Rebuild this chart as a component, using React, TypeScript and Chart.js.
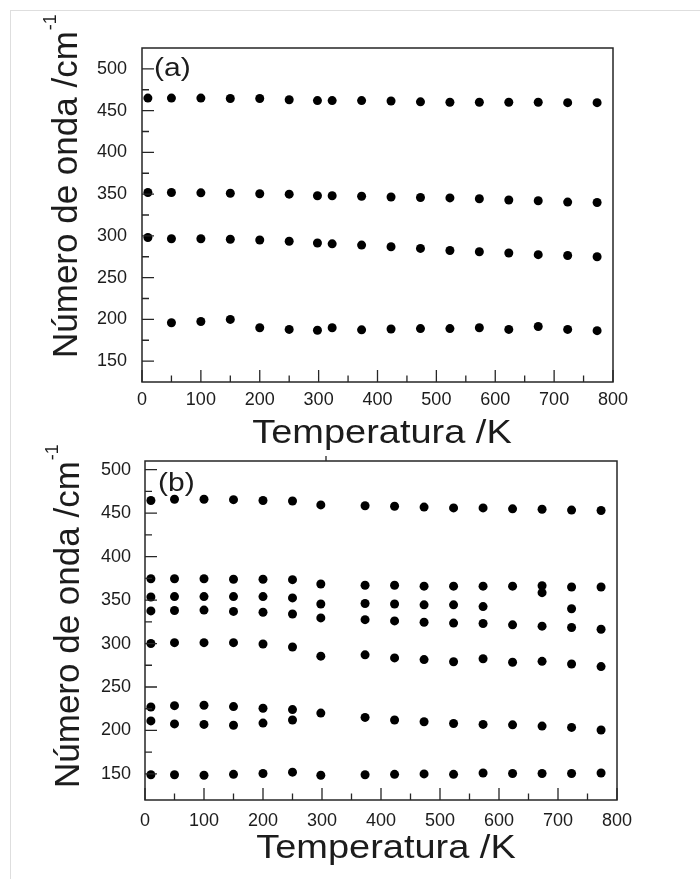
import React, { useEffect, useRef } from "react";
import { Chart, registerables } from "chart.js";

Chart.register(...registerables);

// ---------- data ----------
// Panel (a): temperatures (K) and four Raman bands (cm^-1)
const TEMPS_A = [10, 50, 100, 150, 200, 250, 298, 323, 373, 423, 473, 523, 573, 623, 673, 723, 773];
const BAND_A1 = [465, 465, 465, 464.5, 464.5, 463, 462, 462, 462, 461.5, 460.5, 460, 460, 460, 460, 459.5, 459.5];
const BAND_A2 = [352, 352, 351.5, 351, 350.5, 350, 348, 348, 347.5, 346.5, 346, 345.5, 344.5, 343, 342, 340.5, 340];
const BAND_A3 = [298, 296.5, 296.5, 296, 295, 293.5, 291.5, 290.5, 289, 287, 285, 282.5, 281, 279.5, 277.5, 276.5, 275];
const BAND_A4 = [null, 196, 197.5, 200, 190, 188, 187, 190, 187.5, 188.5, 189, 189, 190, 188, 191.5, 188, 186.5];

// Panel (b): temperatures (K) and eight bands (cm^-1)
const TEMPS_B = [10, 50, 100, 150, 200, 250, 298, 373, 423, 473, 523, 573, 623, 673, 723, 773];
const BAND_B1 = [464.5, 466, 466, 465.5, 464.5, 464, 459.5, 458.5, 458, 457, 456, 456, 455, 454.5, 453.5, 453];
const BAND_B2 = [374.5, 374.5, 374.5, 374, 374, 373.5, 368.5, 367, 367, 366, 366, 366, 366, 366.5, 365, 365];
const BAND_B3 = [353.5, 354, 354, 354, 354, 352.5, 345.5, 346, 345.5, 344.5, 344.5, 342.5, null, 358.5, 340, null];
const BAND_B4 = [337.5, 338, 338.5, 337, 336, 334, 329.5, 327.5, 326, 324.5, 323.5, 323, 321.5, 320, 318.5, 316.5];
const BAND_B5 = [300, 301, 301, 301, 299.5, 296, 285.5, 287, 283.5, 281.5, 279, 282.5, 278.5, 279.5, 276.5, 273.5];
const BAND_B6 = [227, 228.5, 229, 227.5, 225.5, 224, 220, null, null, null, null, null, null, null, null, null];
const BAND_B7 = [211, 207.5, 207, 206, 208.5, 212, null, 215, 212, 210, 208, 207, 206.5, 205, 203.5, 200.5];
const BAND_B8 = [149, 149, 148.5, 149.5, 150.5, 152, 148.5, 149, 149.5, 150, 149.5, 151, 150.5, 150.5, 150.5, 151];

// ---------- axis ticks ----------
const X_MAJOR = [0, 100, 200, 300, 400, 500, 600, 700, 800];
const X_MINOR = [50, 150, 250, 350, 450, 550, 650, 750];
const Y_MAJOR = [150, 200, 250, 300, 350, 400, 450, 500];
const Y_MINOR = [175, 225, 275, 325, 375, 425, 475];
// short outward mark on the top edge of panel (b)
const TOP_MARKS_B = [300];

const X_TITLE = "Temperatura /K";
const Y_TITLE = "Número de onda /cm";
const Y_TITLE_SUP = "-1";

const FONT = "'Liberation Sans', Arial, Helvetica, sans-serif";
const INK = "#1c1c1c";

type Panel = {
  letter: string;
  top: number;
  height: number;
  area: { left: number; top: number; right: number; bottom: number };
  yMin: number;
  yMax: number;
  temps: number[];
  bands: (number | null)[][];
  topMarks: number[];
  yPad: number;
  xPad: number;
  yTitleX: number;
  yTitleStart: number;
  xTitleX: number;
  xTitleY: number;
  letterX: number;
  letterY: number;
};

const PANELS: Panel[] = [
  {
    letter: "(a)",
    top: 0,
    height: 450,
    area: { left: 142, top: 48, right: 613, bottom: 382 },
    yMin: 125,
    yMax: 525,
    temps: TEMPS_A,
    bands: [BAND_A1, BAND_A2, BAND_A3, BAND_A4],
    topMarks: [],
    yPad: 15,
    xPad: 7,
    yTitleX: 77,
    yTitleStart: 358,
    xTitleX: 382,
    xTitleY: 443,
    letterX: 154,
    letterY: 69,
  },
  {
    letter: "(b)",
    top: 430,
    height: 449,
    area: { left: 145, top: 31, right: 617, bottom: 370 },
    yMin: 120,
    yMax: 510,
    temps: TEMPS_B,
    bands: [BAND_B1, BAND_B2, BAND_B3, BAND_B4, BAND_B5, BAND_B6, BAND_B7, BAND_B8],
    topMarks: TOP_MARKS_B,
    yPad: 14,
    xPad: 10,
    yTitleX: 79,
    yTitleStart: 358,
    xTitleX: 386,
    xTitleY: 428,
    letterX: 158,
    letterY: 54,
  },
];

const WIDTH = 700;

// Frame, inward tick marks, axis titles and the panel letter
function makeDecor(p: Panel) {
  return {
    id: "panelDecor",
    afterDraw(chart: any) {
      const { ctx, chartArea } = chart;
      const xs = chart.scales.x;
      const ys = chart.scales.y;
      const { left, top, right, bottom } = chartArea;
      ctx.save();
      ctx.strokeStyle = "#262626";
      ctx.lineWidth = 1.5;
      ctx.strokeRect(left, top, right - left, bottom - top);

      ctx.lineWidth = 1.3;
      ctx.beginPath();
      const xTick = (v: number, len: number) => {
        const px = xs.getPixelForValue(v);
        ctx.moveTo(px, bottom);
        ctx.lineTo(px, bottom - len);
      };
      X_MAJOR.forEach((v) => xTick(v, 12));
      X_MINOR.forEach((v) => xTick(v, 6.5));
      const yTick = (v: number, len: number) => {
        const py = ys.getPixelForValue(v);
        ctx.moveTo(left, py);
        ctx.lineTo(left + len, py);
      };
      Y_MAJOR.forEach((v) => yTick(v, 12));
      Y_MINOR.forEach((v) => yTick(v, 7));
      p.topMarks.forEach((v) => {
        const px = xs.getPixelForValue(v) + 4;
        ctx.moveTo(px, top);
        ctx.lineTo(px, top - 5);
      });
      ctx.stroke();

      ctx.fillStyle = INK;

      // x-axis title
      ctx.save();
      ctx.translate(p.xTitleX, p.xTitleY);
      ctx.scale(1.15, 1);
      ctx.font = `33px ${FONT}`;
      ctx.textAlign = "center";
      ctx.textBaseline = "alphabetic";
      ctx.fillText(X_TITLE, 0, 0);
      ctx.restore();

      // y-axis title with superscript
      ctx.save();
      ctx.translate(p.yTitleX, p.yTitleStart);
      ctx.rotate(-Math.PI / 2);
      ctx.font = `35px ${FONT}`;
      ctx.textAlign = "left";
      ctx.textBaseline = "alphabetic";
      ctx.fillText(Y_TITLE, 0, 0);
      const w = ctx.measureText(Y_TITLE).width;
      ctx.font = `18px ${FONT}`;
      ctx.fillText(Y_TITLE_SUP, w + 1, -21);
      ctx.restore();

      // panel letter
      ctx.save();
      ctx.translate(p.letterX, p.letterY);
      ctx.scale(1.2, 1);
      ctx.font = `25px ${FONT}`;
      ctx.textAlign = "left";
      ctx.textBaseline = "middle";
      ctx.fillText(p.letter, 0, 0);
      ctx.restore();

      ctx.restore();
    },
  };
}

function PanelChart({ p }: { p: Panel }) {
  const ref = useRef<HTMLCanvasElement | null>(null);

  useEffect(() => {
    if (!ref.current) return;
    const datasets = p.bands.map((band, i) => ({
      label: `band ${i + 1}`,
      data: p.temps
        .map((t, j) => ({ x: t, y: band[j] }))
        .filter((d) => d.y !== null),
      backgroundColor: "#000",
      borderColor: "#000",
      borderWidth: 0,
      pointRadius: 4.5,
      pointHoverRadius: 4.5,
      showLine: false,
      clip: false as any,
    }));

    const tickFont = { family: FONT, size: 18 };
    const chart = new Chart(ref.current, {
      type: "scatter",
      data: { datasets },
      plugins: [makeDecor(p)],
      options: {
        animation: false,
        responsive: false,
        devicePixelRatio: 1,
        layout: {
          padding: { left: 0, top: p.area.top, right: WIDTH - p.area.right, bottom: 0 },
        },
        plugins: {
          legend: { display: false },
          tooltip: { enabled: false },
        },
        scales: {
          x: {
            type: "linear",
            position: "bottom",
            min: 0,
            max: 800,
            grid: { display: false, drawTicks: false },
            border: { display: false },
            afterBuildTicks: (s: any) => {
              s.ticks = X_MAJOR.map((v) => ({ value: v }));
            },
            afterFit: (s: any) => {
              s.height = p.height - p.area.bottom;
            },
            ticks: {
              padding: p.xPad,
              font: tickFont,
              color: INK,
              maxRotation: 0,
              autoSkip: false,
              callback: (v: any) => String(v),
            },
          },
          y: {
            type: "linear",
            position: "left",
            min: p.yMin,
            max: p.yMax,
            grid: { display: false, drawTicks: false },
            border: { display: false },
            afterBuildTicks: (s: any) => {
              s.ticks = Y_MAJOR.map((v) => ({ value: v }));
            },
            afterFit: (s: any) => {
              s.width = p.area.left;
            },
            ticks: {
              padding: p.yPad,
              font: tickFont,
              color: INK,
              autoSkip: false,
              callback: (v: any) => String(v),
            },
          },
        },
      } as any,
    });
    return () => chart.destroy();
  }, [p]);

  return (
    <canvas
      ref={ref}
      width={WIDTH}
      height={p.height}
      style={{ position: "absolute", left: 0, top: p.top, width: WIDTH, height: p.height, display: "block" }}
    />
  );
}

export default function App() {
  return (
    <div
      style={{
        position: "absolute",
        left: 0,
        top: 0,
        width: 700,
        height: 879,
        overflow: "hidden",
        background: "#fff",
      }}
    >
      <div
        style={{
          position: "absolute",
          left: 10,
          top: 10,
          width: 720,
          height: 900,
          borderLeft: "1px solid #dedede",
          borderTop: "1px solid #dedede",
        }}
      />
      {PANELS.map((p) => (
        <PanelChart key={p.letter} p={p} />
      ))}
    </div>
  );
}
